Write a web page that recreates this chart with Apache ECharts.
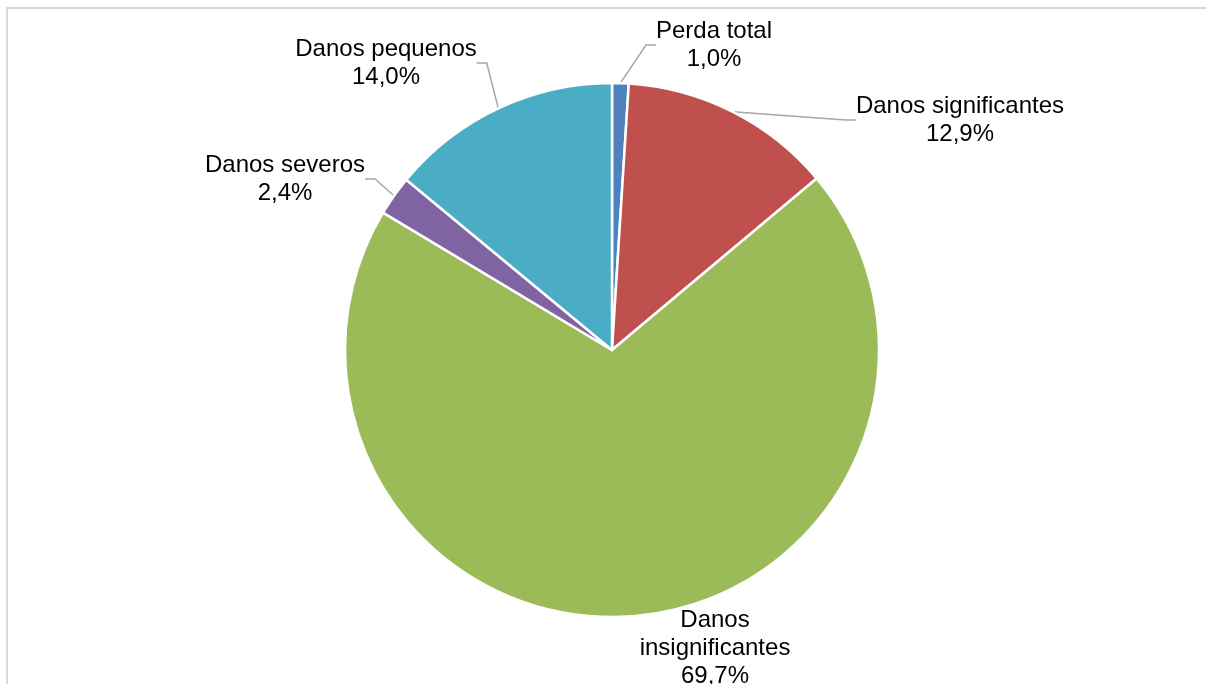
<!DOCTYPE html>
<html>
<head>
<meta charset="utf-8">
<script src="https://cdn.jsdelivr.net/npm/echarts@6/dist/echarts.min.js"></script>
<style>
  html, body { margin: 0; padding: 0; background: #ffffff; }
  #chart { width: 1206px; height: 684px; }
</style>
</head>
<body>
<div id="chart"></div>
<script>
// Damage categories, clockwise from the top of the pie
const categories = ['Perda total', 'Danos significantes', 'Danos insignificantes', 'Danos severos', 'Danos pequenos'];
// Share of each category, in percent
const shares = [1.0, 12.9, 69.7, 2.4, 14.0];
// Slice colours
const colors = ['#4F81BD', '#C0504D', '#9BBB59', '#8064A2', '#4BACC6'];
// Label anchor (centre of the text block) for each category
const labelSpots = [[714, 45], [960, 120], [715, 648], [285, 179], [386, 63]];

const fmt = v => v.toFixed(1).replace('.', ',') + '%';

const data = categories.map((name, i) => ({
  name: name,
  value: shares[i],
  itemStyle: { color: colors[i] },
  label: {
    formatter: (name === 'Danos insignificantes' ? 'Danos\ninsignificantes' : name) + '\n' + fmt(shares[i])
  },
  labelLine: { show: name !== 'Danos insignificantes' }
}));

const chart = echarts.init(document.getElementById('chart'), null, { renderer: 'canvas' });
chart.setOption({
  backgroundColor: '#ffffff',
  animation: false,
  graphic: [{
    type: 'rect',
    z: -10,
    shape: { x: 7, y: 8, width: 1400, height: 900 },
    style: { fill: 'none', stroke: '#D9D9D9', lineWidth: 2 }
  }],
  series: [{
    type: 'pie',
    center: [612, 350],
    radius: [0, 267],
    startAngle: 90,
    clockwise: true,
    data: data,
    itemStyle: { borderColor: '#ffffff', borderWidth: 2.5 },
    label: {
      show: true,
      position: 'outside',
      color: '#000000',
      fontFamily: 'Liberation Sans, Arial, sans-serif',
      fontSize: 24,
      lineHeight: 28,
      align: 'center'
    },
    labelLine: {
      show: true,
      length: 20,
      length2: 10,
      lineStyle: { color: '#A6A6A6', width: 1.5 }
    },
    labelLayout: function (params) {
      const p = labelSpots[params.dataIndex];
      return { x: p[0], y: p[1], align: 'center', verticalAlign: 'middle' };
    },
    emphasis: { disabled: true }
  }]
});
</script>
</body>
</html>
